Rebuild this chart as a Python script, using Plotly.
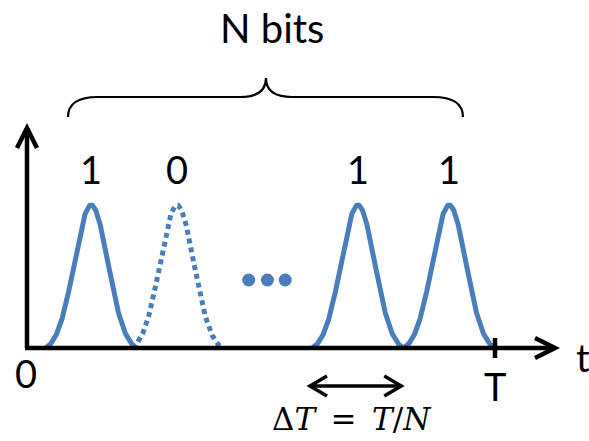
import numpy as np
import plotly.graph_objects as go

# ---- data ----
bit_labels = ["1", "0", "1", "1"]
bit_centers = [0.137, 0.3205, 0.707, 0.902]   # in units of T
bit_amplitudes = [1.0, 1.0, 1.0, 1.0]
bit_sent = [True, False, True, True]          # dotted pulse = "0"
pulse_sigma = 0.036
pulse_halfwidth = 0.097
period_T = 1.0

# ---- geometry helpers (pixels -> data units) ----
W, H = 589, 441
PX_X = 468.0   # pixels per T
PX_Y = 143.0   # pixels per unit amplitude
X0_PX, Y0_PX = 27.0, 348.0
def dx(p): return p / PX_X
def dy(p): return p / PX_Y

BLUE = "#4a7ebb"
FONT = "Lato, 'Open Sans', sans-serif"

fig = go.Figure()

for c, a, s in zip(bit_centers, bit_amplitudes, bit_sent):
    t = np.linspace(c - pulse_halfwidth, c + pulse_halfwidth, 200)
    g = np.exp(-((t - c) ** 2) / (2 * pulse_sigma ** 2))
    g_end = np.exp(-(pulse_halfwidth ** 2) / (2 * pulse_sigma ** 2))
    y = a * (g - g_end) / (1 - g_end)
    fig.add_trace(go.Scatter(
        x=t, y=y, mode="lines",
        line=dict(color=BLUE, width=5, dash="solid" if s else "5px,4px"),
        hoverinfo="skip", showlegend=False))

# ellipsis dots between pulse 2 and 3
mid = (bit_centers[1] + bit_centers[2]) / 2
fig.add_trace(go.Scatter(
    x=[mid - 0.040, mid, mid + 0.038], y=[dy(68)] * 3, mode="markers",
    marker=dict(color=BLUE, size=13), hoverinfo="skip", showlegend=False))

shapes = []
K = dict(color="black", width=4.5)
y_top = dy(Y0_PX - 128)
x_end = dx(555 - X0_PX)
# axes
shapes.append(dict(type="line", x0=0, x1=0, y0=0, y1=y_top, line=K))
shapes.append(dict(type="line", x0=-dx(2), x1=x_end, y0=0, y1=0, line=K))
# arrowheads (chevrons)
shapes.append(dict(type="path", line=K,
                   path=f"M {-dx(10)},{y_top-dy(20)} L 0,{y_top} L {dx(10)},{y_top-dy(20)}"))
shapes.append(dict(type="path", line=K,
                   path=f"M {x_end-dx(20)},{dy(10)} L {x_end},0 L {x_end-dx(20)},{-dy(10)}"))
# tick at T
shapes.append(dict(type="line", x0=period_T, x1=period_T, y0=-dy(10), y1=dy(10), line=K))
# Delta T double arrow
ay = -dy(386 - Y0_PX)
ax0 = dx(310 - X0_PX)
ax1 = ax0 + (bit_centers[3] - bit_centers[2])
A = dict(color="black", width=3.5)
shapes.append(dict(type="line", x0=ax0, x1=ax1, y0=ay, y1=ay, line=A))
shapes.append(dict(type="path", line=A,
                   path=f"M {ax0+dx(17)},{ay+dy(10)} L {ax0},{ay} L {ax0+dx(17)},{ay-dy(10)}"))
shapes.append(dict(type="path", line=A,
                   path=f"M {ax1-dx(17)},{ay+dy(10)} L {ax1},{ay} L {ax1-dx(17)},{ay-dy(10)}"))
# curly brace over N bits
bx0, bx1 = dx(68 - X0_PX), dx(463 - X0_PX)
bxm = dx(266 - X0_PX)
yb, yf, yt = dy(Y0_PX - 117), dy(Y0_PX - 97), dy(Y0_PX - 78)
r = dx(30)
rt = dx(26)
brace = (f"M {bx0},{yb} Q {bx0},{yf} {bx0+r},{yf} L {bxm-rt},{yf} "
         f"Q {bxm},{yf} {bxm},{yt} Q {bxm},{yf} {bxm+rt},{yf} "
         f"L {bx1-r},{yf} Q {bx1},{yf} {bx1},{yb}")
shapes.append(dict(type="path", path=brace, line=dict(color="black", width=2.2)))

ann = []
def label(x, y, text, size=38, family=FONT):
    ann.append(dict(x=x, y=y, text=text, showarrow=False, xanchor="center",
                    yanchor="middle", font=dict(size=size, family=family, color="black")))

for c, lab in zip(bit_centers, bit_labels):
    label(c, dy(Y0_PX - 169), lab)
label(dx(272 - X0_PX), dy(Y0_PX - 28), "N bits", size=40)
label(dx(26 - X0_PX), -dy(373 - Y0_PX), "0")
label(period_T, -dy(386 - Y0_PX), "T")
label(dx(583 - X0_PX), -dy(357 - Y0_PX), "t")
label(dx(352 - X0_PX), -dy(419 - Y0_PX),
      "Δ<i>T</i>\u2002=\u2002<i>T</i>/<i>N</i>", size=31,
      family="'DejaVu Serif', serif")

fig.update_layout(
    width=W, height=H, margin=dict(l=0, r=0, t=0, b=0),
    paper_bgcolor="white", plot_bgcolor="white",
    xaxis=dict(range=[-X0_PX / PX_X, (W - X0_PX) / PX_X], visible=False, fixedrange=True),
    yaxis=dict(range=[-(H - Y0_PX) / PX_Y, Y0_PX / PX_Y], visible=False, fixedrange=True),
    shapes=shapes, annotations=ann, showlegend=False)

fig.write_html("out.html", config={"displayModeBar": False},
               post_script="document.body.style.margin='0';document.body.style.overflow='hidden';")
